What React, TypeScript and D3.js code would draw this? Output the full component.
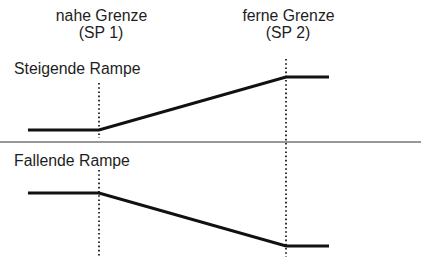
import React from 'react';
import * as d3 from 'd3';

// set points (x in ramp units: SP1 = 0, SP2 = 1)
const setPoints = [0, 1];
const setPointNames = ['nahe Grenze', 'ferne Grenze'];
const setPointCodes = ['(SP 1)', '(SP 2)'];

// ramp shapes
const rampX = [-0.38, 0, 1, 1.23];
const risingY = [0, 0, 1, 1];
const fallingY = [1, 1, 0, 0];
const panelTitles = ['Steigende Rampe', 'Fallende Rampe'];

const W = 423;
const H = 262;
const FONT = '"Liberation Sans", Arial, Helvetica, sans-serif';
const INK = '#1e1e1e';

const App = () => {
    const x = d3.scaleLinear().domain([0, 1]).range([99, 286]);
    const yRise = d3.scaleLinear().domain([0, 1]).range([130, 77]);
    const yFall = d3.scaleLinear().domain([0, 1]).range([246, 193]);

    const line = (ys: number[], y: d3.ScaleLinear<number, number>) =>
        d3.line<number>()
            .x((d, i) => x(rampX[i]))
            .y(d => y(d))(ys) as string;

    // dotted guide segments per set point
    const guides = [
        [[83, 138], [170, 257]],
        [[59, 257]],
    ];

    return (
        <div style={{ position: 'fixed', left: 0, top: 0 }}>
            <svg width={W} height={H} style={{ display: 'block', background: '#fff' }}>
                {setPoints.map((sp, i) => (
                    <g key={'sp' + i}>
                        {guides[i].map((seg, j) => (
                            <line key={j} x1={x(sp)} x2={x(sp)} y1={seg[0]} y2={seg[1]}
                                  stroke="#000" strokeWidth={1.6} strokeDasharray="1.6,2.6" />
                        ))}
                        <text x={x(sp) + 2.5} y={21} textAnchor="middle" fontFamily={FONT}
                              fontSize={15.8} fill={INK}>{setPointNames[i]}</text>
                        <text x={x(sp) + 2} y={38} textAnchor="middle" fontFamily={FONT}
                              fontSize={15.8} fill={INK}>{setPointCodes[i]}</text>
                    </g>
                ))}

                <line x1={0} x2={421} y1={142} y2={142} stroke="#333" strokeWidth={1.2} />

                <text x={14} y={74} fontFamily={FONT} fontSize={15.8} fill={INK}>{panelTitles[0]}</text>
                <text x={14} y={166} fontFamily={FONT} fontSize={15.8} fill={INK}>{panelTitles[1]}</text>

                <path d={line(risingY, yRise)} fill="none" stroke="#111" strokeWidth={3} />
                <path d={line(fallingY, yFall)} fill="none" stroke="#111" strokeWidth={3} />
            </svg>
        </div>
    );
};

export default App;
